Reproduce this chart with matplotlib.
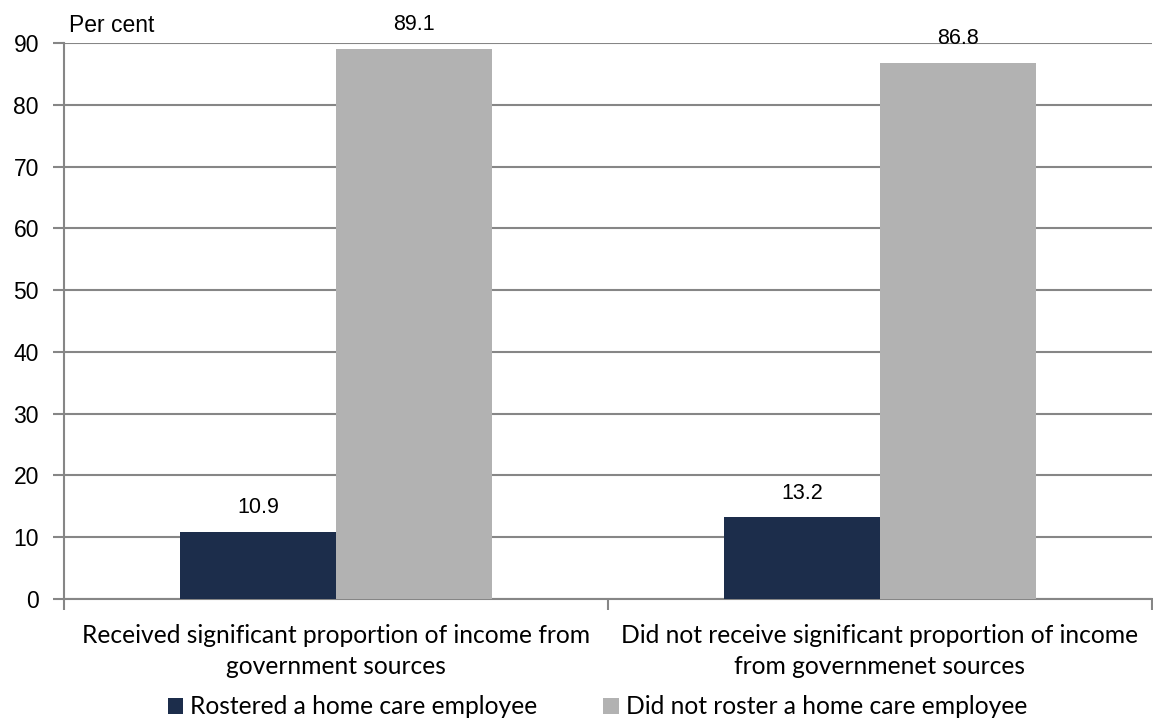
import matplotlib
matplotlib.use("Agg")
import matplotlib.pyplot as plt
import numpy as np

categories = ["Received significant proportion of income from\ngovernment sources",
              "Did not receive significant proportion of income\nfrom governmenet sources"]
series_names = ["Rostered a home care employee", "Did not roster a home care employee"]
rostered = [10.9, 13.2]
not_rostered = [89.1, 86.8]
colors = ["#1C2D4B", "#B2B2B2"]

cat_font = "Lato"
plt.rcParams['font.family'] = ['Arial', 'Liberation Sans', 'DejaVu Sans']

fig = plt.figure(figsize=(11.53, 7.23), dpi=100)
ax = fig.add_axes([64/1153, 1-599/723, 1088/1153, 556/723])

x = np.arange(len(categories))
w = 0.287
b1 = ax.bar(x - w/2, rostered, w, color=colors[0], label=series_names[0], zorder=3)
b2 = ax.bar(x + w/2, not_rostered, w, color=colors[1], label=series_names[1], zorder=3)
for bars, vals in [(b1, rostered), (b2, not_rostered)]:
    for r, v in zip(bars, vals):
        ax.text(r.get_x() + r.get_width()/2, v + 2.2, f"{v:.1f}", ha='center', va='bottom', fontsize=15.5)

ax.set_xlim(-0.5, 1.5)
ax.set_ylim(0, 90)
ax.set_yticks(range(0, 91, 10))
ax.tick_params(axis='y', labelsize=16.5, length=8, color='#868686', width=1.5, pad=10)
ax.set_xticks([-0.5, 0.5, 1.5])
ax.set_xticklabels([])
ax.tick_params(axis='x', length=8, color='#868686', width=1.5)
ax.grid(axis='y', color='#868686', linewidth=1.5, zorder=0)
for s in ['top', 'right']:
    ax.spines[s].set_visible(False)
for s in ['left', 'bottom']:
    ax.spines[s].set_color('#868686')
    ax.spines[s].set_linewidth(1.5)

for xi, c in zip(x, categories):
    ax.text(xi, -4.0, c, ha='center', va='top', fontsize=17.7, family=[cat_font, 'DejaVu Sans'],
            linespacing=1.42, transform=ax.transData)

ax.text(0.005, 1.01, "Per cent", transform=ax.transAxes, fontsize=16.5, ha='left', va='bottom')

leg = fig.legend(handles=[b1, b2], labels=series_names, loc='center', bbox_to_anchor=(0.518, 1-707/723),
                 ncol=2, frameon=False, prop={'family': [cat_font, 'DejaVu Sans'], 'size': 17.7},
                 handlelength=0.62, handleheight=0.62, handletextpad=0.28, columnspacing=2.7,
                 borderpad=0, borderaxespad=0)

fig.savefig("out.png", dpi=100)
